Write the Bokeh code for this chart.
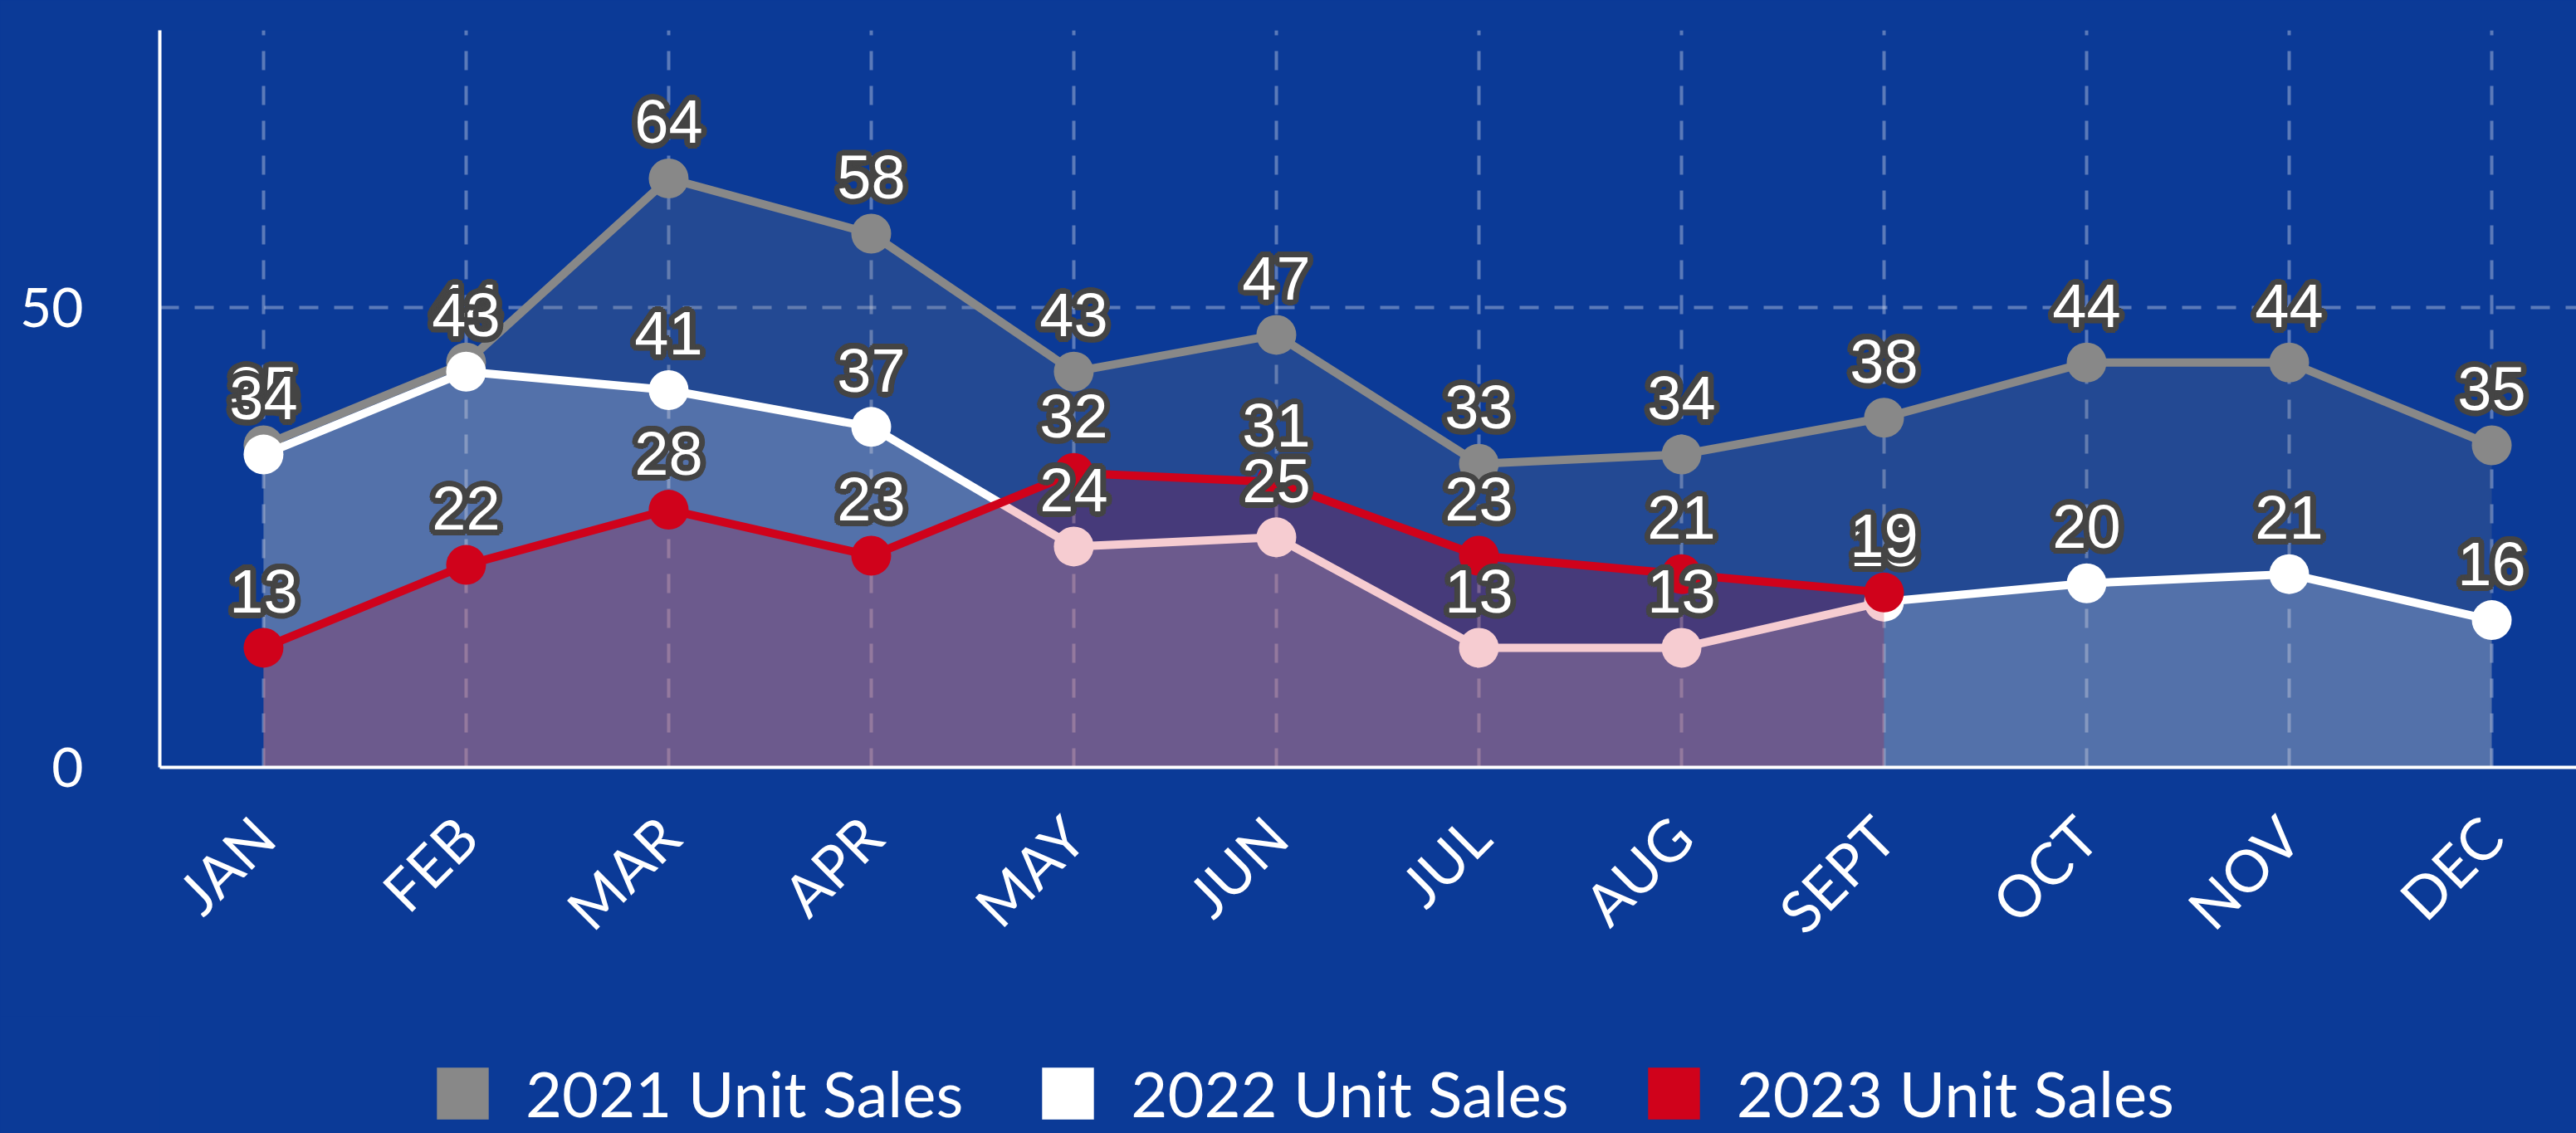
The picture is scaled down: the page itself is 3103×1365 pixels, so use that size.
import math
from bokeh.plotting import figure
from bokeh.layouts import column
from bokeh.models import Range1d, FixedTicker, Legend, LegendItem, ColumnDataSource
from bokeh.core.properties import value
from bokeh.embed import file_html
from bokeh.resources import INLINE

months = ["JAN", "FEB", "MAR", "APR", "MAY", "JUN", "JUL", "AUG", "SEPT", "OCT", "NOV", "DEC"]
sales_2021 = [35, 44, 64, 58, 43, 47, 33, 34, 38, 44, 44, 35]
sales_2022 = [34, 43, 41, 37, 24, 25, 13, 13, 18, 20, 21, 16]
sales_2023 = [13, 22, 28, 23, 32, 31, 23, 21, 19]
series_names = ["2021 Unit Sales", "2022 Unit Sales", "2023 Unit Sales"]
series_colors = ["#888888", "#ffffff", "#d0021b"]
area_alphas = [0.2, 0.22, 0.2]
y_ticks = [0, 50]

BG = "#0b3a97"

p = figure(frame_width=2911, frame_height=888, output_backend="svg", toolbar_location=None,
           x_range=Range1d(-0.512, 11.418), y_range=Range1d(0, 80.1),
           min_border_left=192, min_border_top=36, min_border_right=0,
           min_border_bottom=300)
p.background_fill_color = BG
p.border_fill_color = BG
p.outline_line_color = None

# axes
p.xaxis.ticker = FixedTicker(ticks=list(range(len(months))))
p.xaxis.major_label_overrides = {i: m for i, m in enumerate(months)}
p.xaxis.major_label_orientation = math.pi / 4
p.xaxis.major_label_standoff = 65
p.yaxis.ticker = FixedTicker(ticks=y_ticks)
p.yaxis.major_label_standoff = 86
for ax in (p.xaxis[0], p.yaxis[0]):
    ax.axis_line_color = "white"
    ax.axis_line_width = 4
    ax.major_tick_line_color = None
    ax.minor_tick_line_color = None
    ax.major_label_text_color = "white"
    ax.major_label_text_font = "Lato"
p.xaxis.major_label_text_font_size = "70px"
p.yaxis.major_label_text_font_size = "66px"

for g in (p.xgrid[0], p.ygrid[0]):
    g.grid_line_color = "white"
    g.grid_line_alpha = 0.33
    g.grid_line_width = 4
    g.grid_line_dash = "23 19"

all_series = [sales_2021, sales_2022, sales_2023]
for name, vals, col, a in zip(series_names, all_series, series_colors, area_alphas):
    xs = list(range(len(vals)))
    src = ColumnDataSource(dict(x=xs, y=vals, base=[0] * len(vals)))
    p.varea(x="x", y1="base", y2="y", source=src, fill_color=col, fill_alpha=a)
    p.line(x="x", y="y", source=src, line_color=col, line_width=10)
    p.scatter(x="x", y="y", source=src, size=48, fill_color=col, line_color=None)

# data labels with dark outline
R = 7
offsets = [(math.cos(k * math.pi / 8) * R, math.sin(k * math.pi / 8) * R) for k in range(16)]
for vals in all_series:
    src = ColumnDataSource(dict(x=list(range(len(vals))), y=vals, t=[str(v) for v in vals]))
    for dx, dy in offsets:
        p.text(x="x", y="y", text="t", source=src, text_align="center", text_baseline="alphabetic",
               x_offset=dx, y_offset=-68 + dy, text_font=value("Liberation Sans"),
               text_font_size="74px", text_color="#444444")
    p.text(x="x", y="y", text="t", source=src, text_align="center", text_baseline="alphabetic",
           x_offset=0, y_offset=-68, text_font=value("Liberation Sans"),
           text_font_size="74px", text_color="white")

# legend strip below the chart
leg_fig = figure(frame_width=3103, frame_height=141, output_backend="svg", toolbar_location=None,
                 x_range=Range1d(0, 1), y_range=Range1d(0, 1),
                 x_axis_location=None, y_axis_location=None, min_border=0)
leg_fig.background_fill_color = BG
leg_fig.border_fill_color = BG
leg_fig.outline_line_color = None
leg_fig.xgrid.visible = False
leg_fig.ygrid.visible = False
legend_items = []
for name, col in zip(series_names, series_colors):
    dummy = leg_fig.quad(left=[-100], right=[-99], bottom=[-100], top=[-99],
                         fill_color=col, line_color=None)
    legend_items.append(LegendItem(label=name, renderers=[dummy]))
legend = Legend(items=legend_items, orientation="horizontal", location=(518, 3),
                glyph_width=78, glyph_height=78, label_standoff=37, spacing=87,
                label_text_font="Lato", label_text_font_size="76px", label_text_color="white",
                background_fill_alpha=0, border_line_alpha=0, padding=0, margin=0)
leg_fig.add_layout(legend, "center")

layout = column(p, leg_fig, spacing=0)
html = file_html(layout, INLINE)
html = html.replace("<head>", "<head><style>html, body { background: %s; }</style>" % BG, 1)
open("out.html", "w").write(html)
